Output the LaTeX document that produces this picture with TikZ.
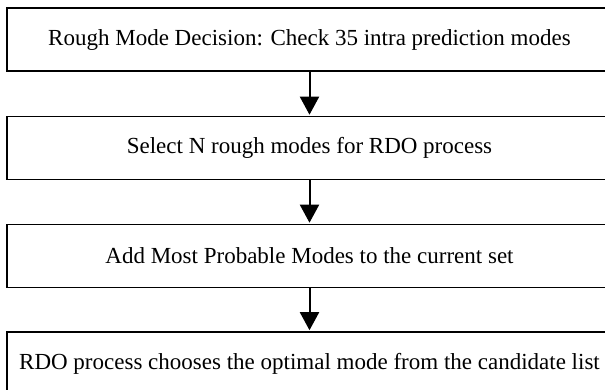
\documentclass[tikz,border=0pt]{standalone}
\usepackage{fontspec}
\setmainfont{Liberation Serif}
\usetikzlibrary{arrows.meta}
\tikzset{
    stepbox/.style={draw, line width=1.6pt, minimum width=605pt, minimum height=63pt,
        inner sep=0pt, font=\fontsize{23}{27}\selectfont},
    flow/.style={line width=2pt, -{Triangle[width=19pt,length=18pt]}, shorten >=1pt}
}
\begin{document}
\begin{tikzpicture}[x=1pt, y=-1pt]
        \useasboundingbox (0, 0) rectangle (605, 389);
        \node[stepbox] (S1) at (309.5, 39.5) {Rough Mode Decision: Check 35 intra prediction modes};
        \node[stepbox] (S2) at (309.5, 148) {Select N rough modes for RDO process};
        \node[stepbox] (S3) at (309.5, 256) {Add Most Probable Modes to the current set};
        \node[stepbox] (S4) at (309.5, 363.5) {RDO process chooses the optimal mode from the candidate list};
        \path [flow] (S1) edge node {} (S2);
        \path [flow] (S2) edge node {} (S3);
        \path [flow] (S3) edge node {} (S4);
    \end{tikzpicture}
\end{document}
